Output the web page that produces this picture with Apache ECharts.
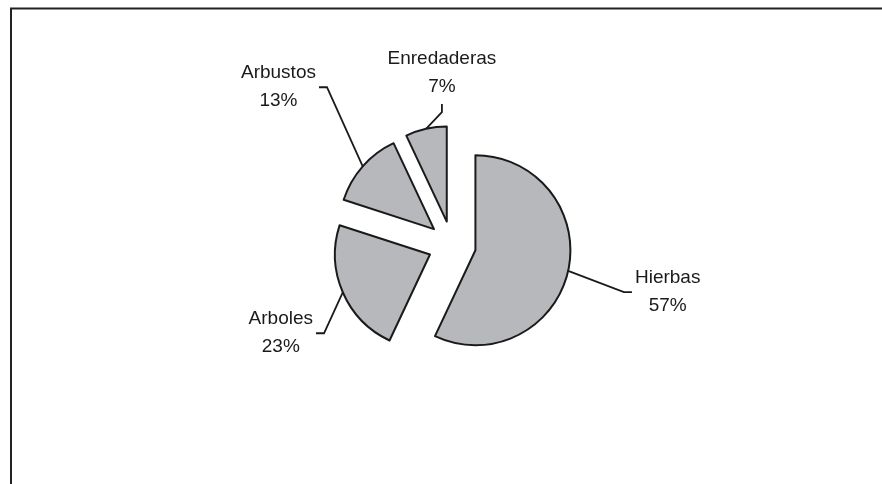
<!DOCTYPE html>
<html>
<head>
<meta charset="utf-8">
<script src="https://cdn.jsdelivr.net/npm/echarts@6/dist/echarts.min.js"></script>
<style>
  html, body { margin: 0; padding: 0; background: #ffffff; }
  #chart { width: 882px; height: 484px; }
</style>
</head>
<body>
<div id="chart"></div>
<script>
// Plant types, share of total (%)
const categories = ['Hierbas', 'Arboles', 'Arbustos', 'Enredaderas'];
const shares = [57, 23, 13, 7];

// Layout of the exploded pie
const PIE_CENTER = [452, 245];
const PIE_RADIUS = 95;
const EXPLODE = 24;
// Label placement: distance from the pie centre along each slice's mid-angle, plus a small nudge
const LABEL_RADIUS = [221, 192, 234, 170];
const LABEL_NUDGE = [[0, -1], [5, 12], [2, -3], [27, -6]];

const FILL = '#b7b8bc';
const INK = '#1a1a1a';

const total = shares.reduce((a, b) => a + b, 0);

// Mid-angle direction of each slice (clockwise from 12 o'clock, screen coordinates)
const dirs = [];
let acc = 0;
shares.forEach(v => {
  const mid = (acc + v / 2) / total * 2 * Math.PI;
  dirs.push([Math.sin(mid), -Math.cos(mid)]);
  acc += v;
});

const sliceCenters = dirs.map(d => [PIE_CENTER[0] + EXPLODE * d[0], PIE_CENTER[1] + EXPLODE * d[1]]);

function labelLayoutFor(i) {
  return function (params) {
    const d = dirs[i];
    const sc = sliceCenters[i];
    const cx = PIE_CENTER[0] + LABEL_RADIUS[i] * d[0] + LABEL_NUDGE[i][0];
    const cy = PIE_CENTER[1] + LABEL_RADIUS[i] * d[1] + LABEL_NUDGE[i][1];
    const w = params.labelRect.width;
    const h = params.labelRect.height;
    const start = [sc[0] + PIE_RADIUS * d[0], sc[1] + PIE_RADIUS * d[1]];
    const gap = 3, elbow = 8;
    let end, bend;
    if (start[0] > cx - w / 2 && start[0] < cx + w / 2) {
      // leader meets the label from below
      const side = start[1] > cy ? 1 : -1;
      end = [cx, cy + side * (h / 2 + gap)];
      bend = [cx, end[1] + side * elbow];
    } else {
      const side = start[0] > cx ? 1 : -1;
      end = [cx + side * (w / 2 + gap), cy];
      bend = [end[0] + side * elbow, cy];
    }
    return {
      x: cx,
      y: cy,
      align: 'center',
      verticalAlign: 'middle',
      labelLinePoints: [start, bend, end]
    };
  };
}

// One series per slice so each wedge can be pushed out along its own mid-angle
const series = categories.map((name, i) => ({
  type: 'pie',
  center: sliceCenters[i],
  radius: PIE_RADIUS,
  startAngle: 90,
  clockwise: true,
  avoidLabelOverlap: false,
  silent: true,
  z: 2,
  data: categories.map((n, j) => ({
    name: n,
    value: shares[j],
    itemStyle: j === i
      ? { color: FILL, borderColor: INK, borderWidth: 2 }
      : { color: 'rgba(0,0,0,0)', borderWidth: 0 },
    label: { show: j === i },
    labelLine: { show: j === i }
  })),
  label: {
    position: 'outside',
    formatter: '{b}\n{c}%',
    fontFamily: 'Liberation Sans, Arial, sans-serif',
    fontSize: 19,
    lineHeight: 28,
    color: INK
  },
  labelLine: {
    show: true,
    smooth: false,
    lineStyle: { color: INK, width: 1.8 }
  },
  labelLayout: labelLayoutFor(i)
}));

const chart = echarts.init(document.getElementById('chart'), null, { renderer: 'canvas' });
chart.setOption({
  animation: false,
  backgroundColor: '#ffffff',
  graphic: [{
    type: 'rect',
    shape: { x: 11, y: 8.5, width: 900, height: 500 },
    style: { fill: 'none', stroke: '#222222', lineWidth: 2 },
    silent: true,
    z: 1
  }],
  series: series
});
</script>
</body>
</html>
